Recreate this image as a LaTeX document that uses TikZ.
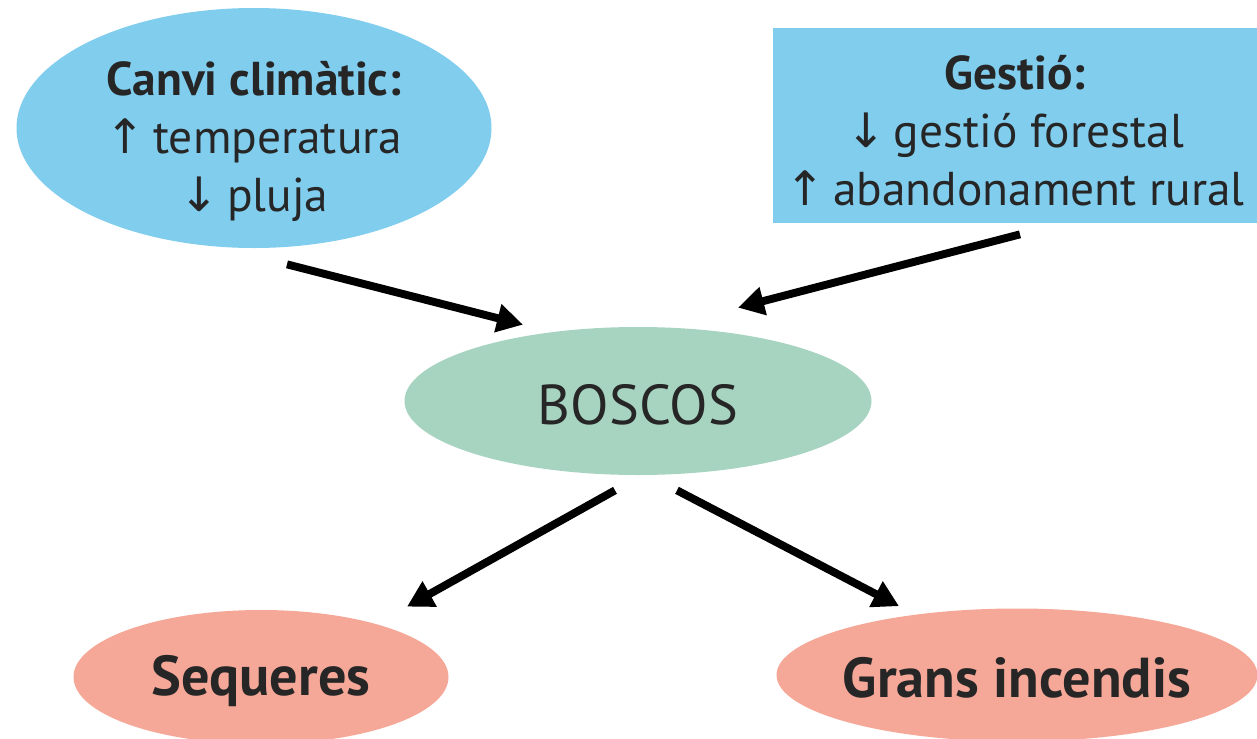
\documentclass[tikz,border=0pt]{standalone}
\usepackage{fontspec}
\setmainfont{PT Sans}
\newfontfamily\arrowfont{DejaVu Sans}
\usetikzlibrary{arrows.meta,shapes.geometric}
\definecolor{cielo}{HTML}{80CDEE}
\definecolor{bosc}{HTML}{A7D4C0}
\definecolor{salmo}{HTML}{F6A898}
\definecolor{tinta}{HTML}{262626}

\begin{document}
\begin{tikzpicture}
        \tikzset{blob/.style = {shape=ellipse,inner sep=0pt}}
        \tikzset{caixa/.style = {shape=rectangle,inner sep=0pt}}
        \tikzset{txt/.style = {align=center,text=tinta,font=\fontsize{27}{33}\selectfont}}
        \tikzset{big/.style = {txt,font=\fontsize{32}{38}\selectfont}}
        \tikzset{edge/.style = {line width=4.5pt,-{Triangle[length=0.52cm,width=0.55cm]}}}

        \useasboundingbox (0,0) rectangle (25.14,-14.78);

        % shapes
        \node[blob,fill=cielo,minimum width=9.5cm,minimum height=4.8cm] (canvi) at (5.08,-2.56) {};
        \node[caixa,fill=cielo,minimum width=9.68cm,minimum height=3.9cm] (gestio) at (20.30,-2.51) {};
        \node[blob,fill=bosc,minimum width=9.34cm,minimum height=2.96cm] (boscos) at (12.76,-8.02) {};
        \node[blob,fill=salmo,minimum width=7.5cm,minimum height=2.68cm] (sequeres) at (5.22,-13.54) {};
        \node[blob,fill=salmo,minimum width=9.62cm,minimum height=2.66cm] (incendis) at (20.34,-13.5) {};

        % texts
        \node[txt] (canvitxt) at ([yshift=-0.26cm]canvi.center)
            {\textbf{Canvi climàtic:}\\{\arrowfont ↑}\,temperatura\\{\arrowfont ↓}\,pluja};
        \node[txt] (gestiotxt) at ([yshift=-0.1cm]gestio.center)
            {\textbf{Gestió:}\\{\arrowfont ↓}\,gestió forestal\\{\arrowfont ↑}\,abandonament rural};
        \node[big] (boscostxt) at ([yshift=-0.08cm]boscos.center) {BOSCOS};
        \node[big] (sequerestxt) at ([yshift=-0.08cm]sequeres.center) {\textbf{Sequeres}};
        \node[big] (incendistxt) at ([yshift=-0.05cm]incendis.center) {\textbf{Grans incendis}};

        %edges
        \draw[edge] ([shift={(0.66,-0.32)}]canvi.south) -- ([shift={(-2.3,0.04)}]boscos.north);
        \draw[edge] ([shift={(0.1,-0.22)}]gestio.south) -- ([shift={(2.0,0.38)}]boscos.north);
        \draw[edge] ([shift={(-0.46,-0.3)}]boscos.south) -- ([shift={(2.92,0.06)}]sequeres.north);
        \draw[edge] ([shift={(0.78,-0.3)}]boscos.south) -- ([shift={(-2.36,0.04)}]incendis.north);

    \end{tikzpicture}
\end{document}
